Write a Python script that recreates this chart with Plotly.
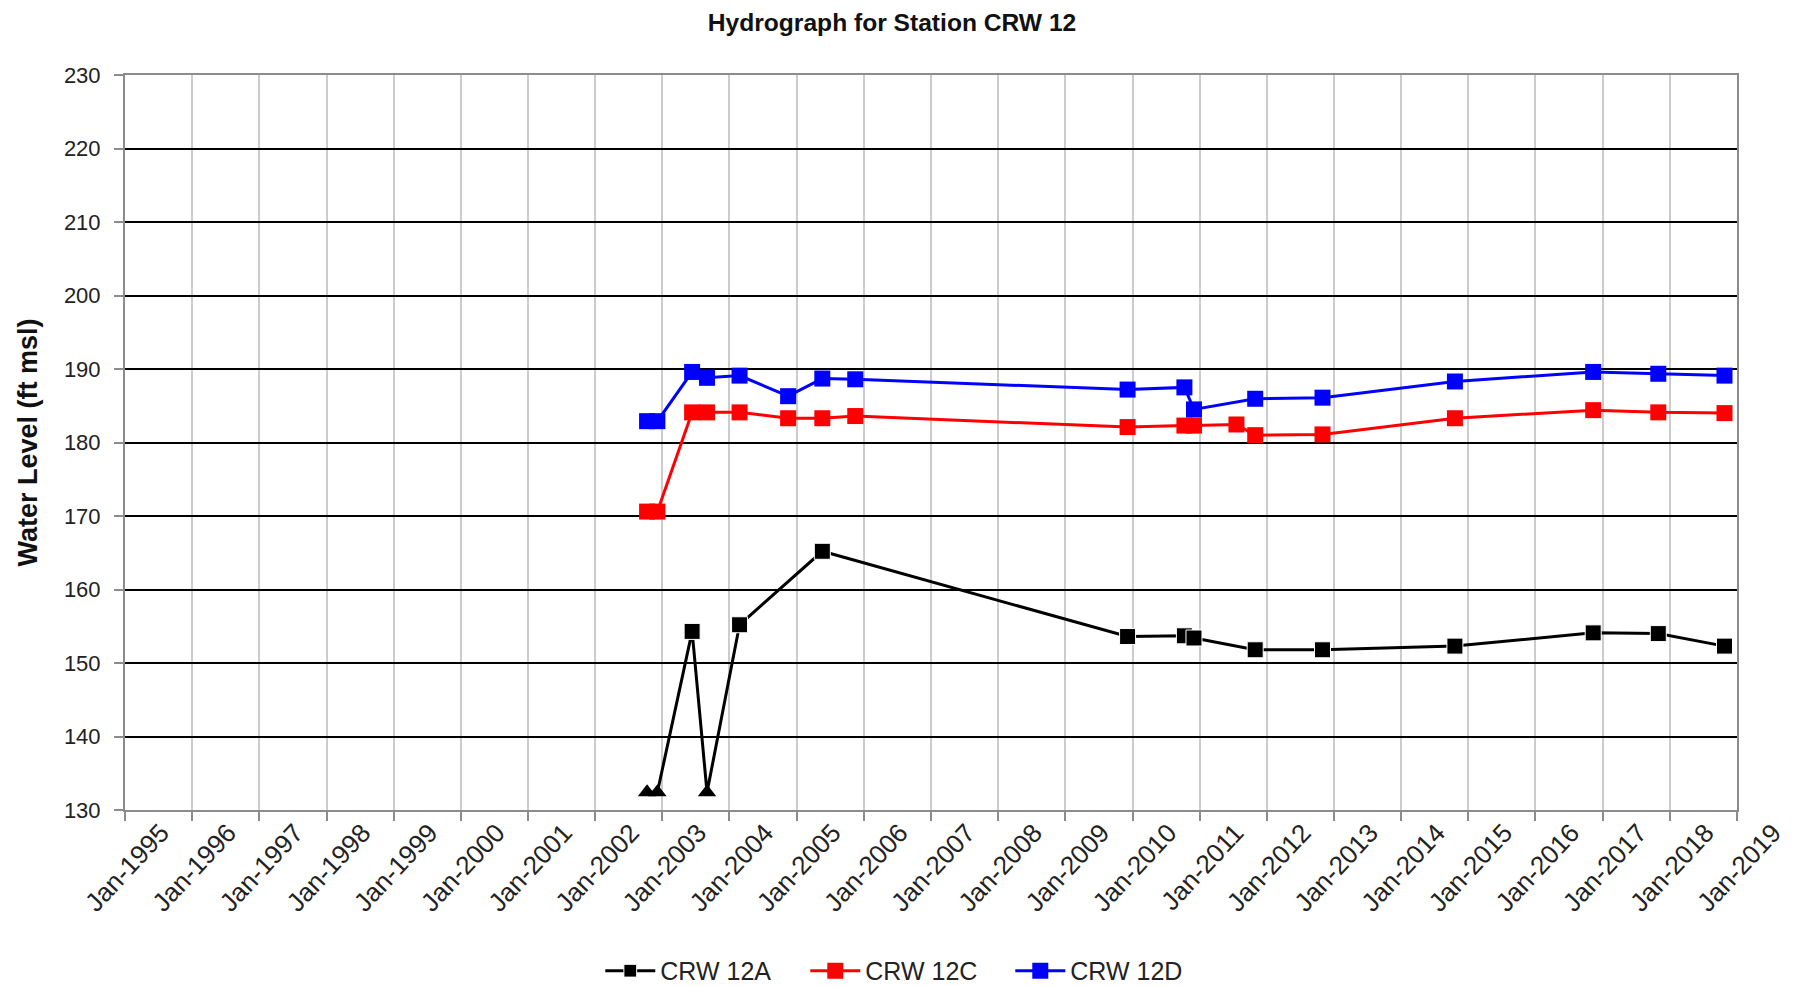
import plotly.graph_objects as go

# ---- data ----
dates_12a = ["2002-10-10", "2002-12-05", "2003-06-12", "2003-09-01", "2004-02-25", "2005-05-20",
             "2009-12-05", "2010-10-10", "2010-12-01", "2011-10-30", "2012-10-30", "2014-10-20",
             "2016-11-10", "2017-10-30", "2018-10-25"]
level_12a = [132.4, 132.4, 154.3, 132.4, 155.2, 165.2,
             153.6, 153.7, 153.4, 151.8, 151.8, 152.3,
             154.1, 154.0, 152.3]
# readings drawn with a triangle marker (below measurable level)
dry_12a = [True, True, False, True, False, False,
           False, False, False, False, False, False,
           False, False, False]

dates_12c = ["2002-10-10", "2002-12-05", "2003-06-12", "2003-09-01", "2004-02-25", "2004-11-15",
             "2005-05-20", "2005-11-15", "2009-12-05", "2010-10-10", "2010-12-01", "2011-07-20",
             "2011-10-30", "2012-10-30", "2014-10-20", "2016-11-10", "2017-10-30", "2018-10-25"]
level_12c = [170.6, 170.6, 184.1, 184.1, 184.1, 183.3,
             183.3, 183.6, 182.1, 182.3, 182.3, 182.45,
             181.0, 181.1, 183.3, 184.4, 184.1, 184.0]

dates_12d = ["2002-10-10", "2002-12-05", "2003-06-12", "2003-09-01", "2004-02-25", "2004-11-15",
             "2005-05-20", "2005-11-15", "2009-12-05", "2010-10-10", "2010-12-01",
             "2011-10-30", "2012-10-30", "2014-10-20", "2016-11-10", "2017-10-30", "2018-10-25"]
level_12d = [182.9, 182.9, 189.6, 188.8, 189.1, 186.3,
             188.7, 188.6, 187.2, 187.5, 184.5,
             185.95, 186.1, 188.3, 189.6, 189.35, 189.1]

series_names = ["CRW 12A", "CRW 12C", "CRW 12D"]
series_colors = ["#000000", "#ff0000", "#0000ff"]

MS = 16
# ---- figure ----
fig = go.Figure()
fig.add_trace(go.Scatter(x=dates_12a, y=level_12a, mode="lines+markers", name=series_names[0],
                         legendgroup="a",
                         line=dict(color=series_colors[0], width=3),
                         marker=dict(symbol="square", size=[0 if d else MS for d in dry_12a],
                                     color=series_colors[0], opacity=1)))
fig.add_trace(go.Scatter(x=[d for d, f in zip(dates_12a, dry_12a) if f],
                         y=[v for v, f in zip(level_12a, dry_12a) if f],
                         mode="markers", name=series_names[0], legendgroup="a", showlegend=False,
                         marker=dict(symbol="triangle-up", size=MS, color=series_colors[0], opacity=1)))
fig.add_trace(go.Scatter(x=dates_12c, y=level_12c, mode="lines+markers", name=series_names[1],
                         line=dict(color=series_colors[1], width=3),
                         marker=dict(symbol="square", size=MS, color=series_colors[1])))
fig.add_trace(go.Scatter(x=dates_12d, y=level_12d, mode="lines+markers", name=series_names[2],
                         line=dict(color=series_colors[2], width=3),
                         marker=dict(symbol="square", size=MS, color=series_colors[2])))

fam = "Liberation Sans, Arial"

# the page body has an 8px margin, so the figure is drawn 8px smaller
fig.update_layout(
    width=1787, height=979,
    paper_bgcolor="white", plot_bgcolor="white",
    margin=dict(l=117, r=58, t=67, b=177, autoexpand=False),
    title=dict(text="<b>Hydrograph for Station CRW 12</b>", x=0.4947, xanchor="center",
               y=0.985, yanchor="middle",
               font=dict(family=fam, size=24.6, color="#111111")),
    showlegend=True,
    legend=dict(orientation="h", x=0.4856, xanchor="center", y=-0.219, yanchor="middle",
                font=dict(family=fam, size=25, color="#222222"),
                entrywidth=140, entrywidthmode="pixels", itemwidth=50),
)

fig.update_xaxes(
    type="date", range=["1995-01-01", "2019-01-01"],
    tick0="1995-01-01", dtick="M12", tickformat="%b-%Y", tickangle=-47,
    showgrid=True, gridcolor="#cccccc", gridwidth=1.5,
    showline=True, linecolor="#8c8c8c", linewidth=2, mirror=True,
    ticks="outside", ticklen=9, tickcolor="#8c8c8c", tickwidth=2,
    tickfont=dict(family=fam, size=26, color="#222222"),
    ticklabelshift=36, ticklabelstandoff=-14,
    zeroline=False, automargin=False,
)
fig.update_yaxes(
    range=[130, 230], dtick=10, tick0=130,
    showgrid=True, gridcolor="#000000", gridwidth=1.5,
    showline=True, linecolor="#8c8c8c", linewidth=2, mirror=True,
    ticks="outside", ticklen=9, tickcolor="#8c8c8c", tickwidth=2,
    tickfont=dict(family=fam, size=22, color="#222222"), ticklabelstandoff=9,
    title=dict(text="<b>Water Level (ft msl)</b>", standoff=18,
               font=dict(family=fam, size=27, color="#111111")),
    zeroline=False, automargin=False,
)

fig.write_html("out.html")
